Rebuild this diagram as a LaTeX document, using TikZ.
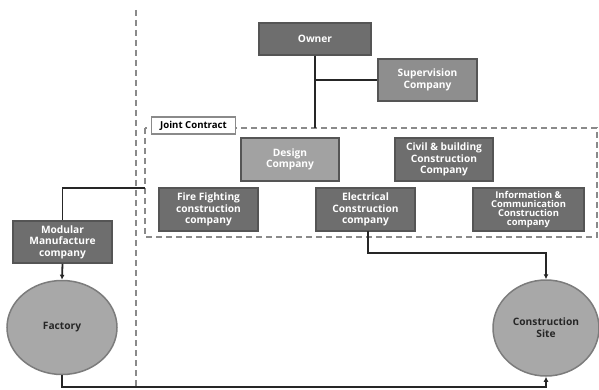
\documentclass[tikz,border=0pt]{standalone}
\usepackage{fontspec}
\setmainfont{Open Sans}
\usetikzlibrary{arrows.meta,shapes.geometric}
\definecolor{boxdark}{HTML}{6E6E6E}
\definecolor{boxmid}{HTML}{8E8E8E}
\definecolor{boxlight}{HTML}{A2A2A2}
\definecolor{boxedge}{HTML}{555555}
\definecolor{ovalfill}{HTML}{A8A8A8}
\definecolor{ovaledge}{HTML}{7C7C7C}
\definecolor{dashgray}{HTML}{8A8A8A}
\definecolor{linedark}{HTML}{262626}
\tikzset{
  orgbox/.style={draw=boxedge, line width=1.5pt, fill=boxdark, text=white,
    font=\bfseries\fontsize{10.2}{11.4}\selectfont, align=center, inner sep=0pt,
    minimum width=#1, minimum height=43pt},
  orgbox/.default=99pt,
  oval/.style={ellipse, draw=ovaledge, line width=1.5pt, fill=ovalfill,
    text=black!85, font=\bfseries\fontsize{10.2}{11.8}\selectfont, align=center},
  link/.style={draw=linedark, line width=1.8pt},
  arrowlink/.style={link, -{Latex[length=5pt,width=5pt]}},
  dashline/.style={draw=dashgray, line width=2pt, dash pattern=on 6pt off 4pt},
}
\begin{document}
\begin{tikzpicture}[x=1pt, y=-1pt]
\useasboundingbox (0,0) rectangle (599,390);

% dashed divider between factory side and site side
\draw[dashline] (136,10) -- (136,390);

% joint-contract group frame
\draw[dashline] (145,128) rectangle (597,237);
\node[draw=dashgray, line width=1.7pt, fill=white, font=\bfseries\fontsize{9.6}{11}\selectfont,
  minimum width=84pt, minimum height=17pt, inner sep=0pt] (jc) at (193.5,125.5) {Joint Contract};

% organisation boxes
\node[orgbox=112pt, minimum height=32pt] (owner) at (315,39) {Owner};
\node[orgbox, fill=boxmid, minimum height=42pt] (sup) at (427.5,80) {Supervision\\Company};
\node[orgbox=98pt, fill=boxlight] (design) at (290,159.5) {Design\\Company};
\node[orgbox=98pt] (civil) at (444,159.5) {Civil \& building\\Construction\\Company};
\node[orgbox] (fire) at (208.5,209.5) {Fire Fighting\\construction\\company};
\node[orgbox] (elec) at (365.5,209.5) {Electrical\\Construction\\company};
\node[orgbox=111pt, font=\bfseries\fontsize{9.4}{9}\selectfont] (info) at (528.5,209.5) {Information \&\\Communication\\Construction\\company};
\node[orgbox, minimum height=42pt] (modular) at (62.5,242) {Modular\\Manufacture\\company};

% sites
\node[oval, minimum width=110pt, minimum height=94pt] (factory) at (62,327.5) {Factory};
\node[oval, minimum width=106pt, minimum height=96pt] (site) at (546,328) {Construction\\Site};

% owner hierarchy
\coordinate (jtop) at (owner.south |- 0,128);
\draw[link] (owner.south) -- (jtop);
\draw[link] (owner.south |- sup.west) -- (sup.west);

% joint contract to modular manufacture
\coordinate (jleft) at (145,188);
\draw[link] (jleft) -| (modular.north);
\draw[arrowlink] (modular.south) -- (factory.north);

% electrical to construction site
\coordinate (ebot) at (368,237);
\draw[link] (368,231) -- (ebot);
\draw[arrowlink] (ebot) |- (546,253) -- (site.north);

% factory to construction site
\draw[arrowlink] (factory.south) |- (546,387) -- (site.south);
\end{tikzpicture}
\end{document}
